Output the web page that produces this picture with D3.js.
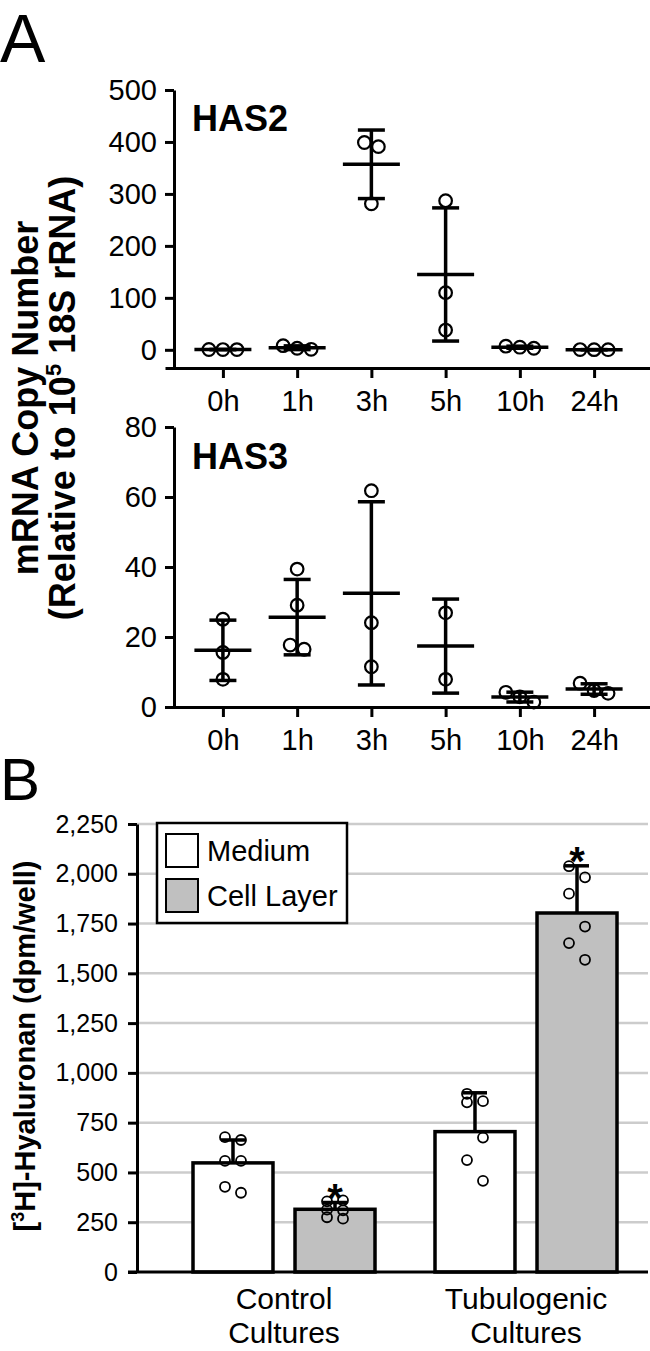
<!DOCTYPE html>
<html>
<head>
<meta charset="utf-8">
<script src="https://cdn.jsdelivr.net/npm/d3@7"></script>
<style>
  body { margin: 0; background: #fff; }
  svg { display: block; font-family: "Liberation Sans", Arial, sans-serif; }
</style>
</head>
<body>
<svg id="chart" width="650" height="1351"></svg>
<script>
"use strict";

// ---- Panel A: HAS2 / HAS3 mRNA copy number over time ----
const hours = ["0h", "1h", "3h", "5h", "10h", "24h"];
const has2Values = [
  [0.4, 0.6, 0.5],
  [1, 3, 8],
  [399, 391, 281],
  [287, 110, 38],
  [3, 5, 7],
  [0.2, 0.3, 0.5],
];
const has3Values = [
  [25.1, 15.6, 7.9],
  [39.4, 29.1, 16.5, 17.7],
  [61.8, 24.1, 11.5],
  [26.9, 7.9],
  [2.9, 1.4, 4.2],
  [6.8, 3.9, 4.7],
];
const has2Ticks = [0, 100, 200, 300, 400, 500];
const has3Ticks = [0, 20, 40, 60, 80];

// ---- Panel B: [3H]-hyaluronan ----
const cultures = ["Control Cultures", "Tubulogenic Cultures"];
const fractions = ["Medium", "Cell Layer"];
const mediumMean = [548, 705];
const mediumSD = [115, 195];
const cellMean = [315, 1803];
const cellSD = [34, 237];
const mediumPoints = [
  [677, 663, 558, 558, 428, 398],
  [895, 858, 852, 675, 562, 458],
];
const cellPoints = [
  [355, 360, 313, 310, 275, 268],
  [2038, 1982, 1900, 1735, 1652, 1568],
];
const cellSignificant = [true, true];
const hyaTicks = [0, 250, 500, 750, 1000, 1250, 1500, 1750, 2000, 2250];

const FONT = '"Liberation Sans", Arial, sans-serif';
const svg = d3.select("#chart");

// spread points sitting at nearly the same height side by side
function spread(vals, y, r) {
  const order = vals.map((v, i) => i).sort((a, b) => y(vals[a]) - y(vals[b]));
  const off = vals.map(() => 0);
  let cluster = [];
  const flush = () => {
    cluster.forEach((idx, k) => (off[idx] = (k - (cluster.length - 1) / 2) * 14));
    cluster = [];
  };
  order.forEach(i => {
    if (cluster.length && y(vals[i]) - y(vals[cluster[cluster.length - 1]]) > 2 * r) flush();
    cluster.push(i);
  });
  flush();
  return off;
}

const xA = d3.scalePoint().domain(hours).range([165, 652]).padding(0.78);
const yHas2 = d3.scaleLinear().domain([-35, 500]).range([368, 90]);
const yHas3 = d3.scaleLinear().domain([0, 80]).range([707, 427]);

function styleAxis(g, size) {
  g.attr("font-family", FONT).attr("font-size", size);
  g.selectAll(".domain, .tick line").attr("stroke", "#000").attr("stroke-width", 3);
  g.selectAll(".tick text").attr("fill", "#000");
}

function drawScatter(values, y, ticks, name, nameY) {
  const g = svg.append("g");
  g.append("g")
    .attr("transform", `translate(0,${y.range()[0]})`)
    .call(d3.axisBottom(xA).tickSize(10).tickPadding(12).tickSizeOuter(0))
    .call(styleAxis, 29);
  g.append("g")
    .attr("transform", "translate(174,0)")
    .call(d3.axisLeft(y).tickValues(ticks).tickSize(9).tickPadding(8).tickSizeOuter(0))
    .call(styleAxis, 29);

  g.append("text")
    .attr("x", 192).attr("y", nameY)
    .attr("font-weight", "bold").attr("font-size", 36)
    .text(name);

  hours.forEach((h, i) => {
    const vals = values[i];
    const m = d3.mean(vals);
    const sd = d3.deviation(vals);
    const cx = xA(h);
    const grp = g.append("g").attr("stroke", "#000").attr("fill", "none");
    grp.append("line").attr("x1", cx).attr("x2", cx)
      .attr("y1", y(m - sd)).attr("y2", y(m + sd)).attr("stroke-width", 3.5);
    [m - sd, m + sd].forEach(v => {
      grp.append("line").attr("x1", cx - 13.5).attr("x2", cx + 13.5)
        .attr("y1", y(v)).attr("y2", y(v)).attr("stroke-width", 3.5);
    });
    grp.append("line").attr("x1", cx - 28.5).attr("x2", cx + 28.5)
      .attr("y1", y(m)).attr("y2", y(m)).attr("stroke-width", 3.5);
    const off = spread(vals, y, 6);
    grp.selectAll("circle").data(vals).enter().append("circle")
      .attr("cx", (d, k) => cx + off[k])
      .attr("cy", d => y(d))
      .attr("r", 6.3)
      .attr("stroke-width", 2.2);
  });
}

svg.append("text").attr("x", 0).attr("y", 62).attr("font-size", 68).text("A");
drawScatter(has2Values, yHas2, has2Ticks, "HAS2", 131);
drawScatter(has3Values, yHas3, has3Ticks, "HAS3", 469);

// shared y label for panel A
const yLab = svg.append("g").attr("font-weight", "bold").attr("font-size", 36).attr("text-anchor", "middle");
yLab.append("text").attr("transform", "translate(38,398) rotate(-90)").text("mRNA Copy Number");
const l2 = yLab.append("text").attr("transform", "translate(75,398) rotate(-90)");
l2.append("tspan").text("(Relative to 10");
l2.append("tspan").attr("font-size", 22).attr("dy", -14).text("5");
l2.append("tspan").attr("dy", 14).text(" 18S rRNA)");

// ---- Panel B ----
svg.append("text").attr("x", 0).attr("y", 800).attr("font-size", 60).text("B");

const xB0 = d3.scaleBand().domain(cultures).range([163, 647]);
const xB1 = d3.scaleBand().domain(fractions).range([30, 212]).paddingInner(0.216);
const yB = d3.scaleLinear().domain([0, 2250]).range([1272, 824]);

const gB = svg.append("g");
gB.append("g").selectAll("line").data(hyaTicks.filter(t => t > 0)).enter().append("line")
  .attr("x1", 137).attr("x2", 648)
  .attr("y1", d => yB(d)).attr("y2", d => yB(d))
  .attr("stroke", "#cccccc").attr("stroke-width", 2.5);

const table = cultures.flatMap((c, i) => [
  { culture: c, fraction: "Medium", mean: mediumMean[i], sd: mediumSD[i], points: mediumPoints[i], star: false },
  { culture: c, fraction: "Cell Layer", mean: cellMean[i], sd: cellSD[i], points: cellPoints[i], star: cellSignificant[i] },
]);
const fill = { Medium: "#ffffff", "Cell Layer": "#c0c0c0" };

table.forEach(d => {
  const x = xB0(d.culture) + xB1(d.fraction);
  const cx = x + xB1.bandwidth() / 2;
  const top = yB(d.mean + d.sd);
  gB.append("line").attr("x1", cx).attr("x2", cx).attr("y1", yB(d.mean)).attr("y2", top)
    .attr("stroke", "#000").attr("stroke-width", 3.5);
  gB.append("line").attr("x1", cx - 12).attr("x2", cx + 12).attr("y1", top).attr("y2", top)
    .attr("stroke", "#000").attr("stroke-width", 3.5);
  gB.append("rect")
    .attr("x", x).attr("y", yB(d.mean))
    .attr("width", xB1.bandwidth()).attr("height", yB(0) - yB(d.mean))
    .attr("fill", fill[d.fraction]).attr("stroke", "#000").attr("stroke-width", 3.5);
  gB.selectAll(null).data(d.points).enter().append("circle")
    .attr("cx", (p, k) => cx + (k % 2 === 0 ? -8 : 8))
    .attr("cy", p => yB(p))
    .attr("r", 5)
    .attr("fill", "none").attr("stroke", "#000").attr("stroke-width", 1.8);
  if (d.star) {
    gB.append("text").attr("x", cx).attr("y", top - 14 + 0.58 * 40)
      .attr("text-anchor", "middle").attr("font-weight", "bold").attr("font-size", 40).text("*");
  }
});

gB.append("g")
  .attr("transform", "translate(137,0)")
  .call(d3.axisLeft(yB).tickValues(hyaTicks).tickFormat(d3.format(",")).tickSize(9).tickPadding(10).tickSizeOuter(0))
  .call(styleAxis, 25);

const xAxisB = gB.append("g")
  .attr("transform", "translate(0,1272)")
  .call(d3.axisBottom(xB0).tickSize(0).tickFormat(""))
  .call(styleAxis, 30);
xAxisB.select(".domain").attr("d", "M128,0H648");
xAxisB.selectAll(".tick").each(function (c) {
  const t = d3.select(this).append("text")
    .attr("fill", "#000").attr("text-anchor", "middle").attr("font-size", 30);
  c.split(" ").forEach((w, k) => t.append("tspan").attr("x", 0).attr("y", 37 + k * 34).text(w));
});

// legend
const leg = gB.append("g");
leg.append("rect").attr("x", 157).attr("y", 823).attr("width", 190).attr("height", 100)
  .attr("fill", "#fff").attr("stroke", "#000").attr("stroke-width", 2.5);
fractions.forEach((f, i) => {
  leg.append("rect").attr("x", 166).attr("y", 834 + i * 45).attr("width", 32).attr("height", 33)
    .attr("fill", fill[f]).attr("stroke", "#000").attr("stroke-width", 2);
  leg.append("text").attr("x", 207).attr("y", 861 + i * 45).attr("font-size", 29).text(f);
});

const yLabB = svg.append("text")
  .attr("transform", "translate(35,1046) rotate(-90)")
  .attr("text-anchor", "middle").attr("font-weight", "bold").attr("font-size", 29);
yLabB.append("tspan").text("[");
yLabB.append("tspan").attr("font-size", 18).attr("dy", -11).text("3");
yLabB.append("tspan").attr("dy", 11).text("H]-Hyaluronan (dpm/well)");
</script>
</body>
</html>
